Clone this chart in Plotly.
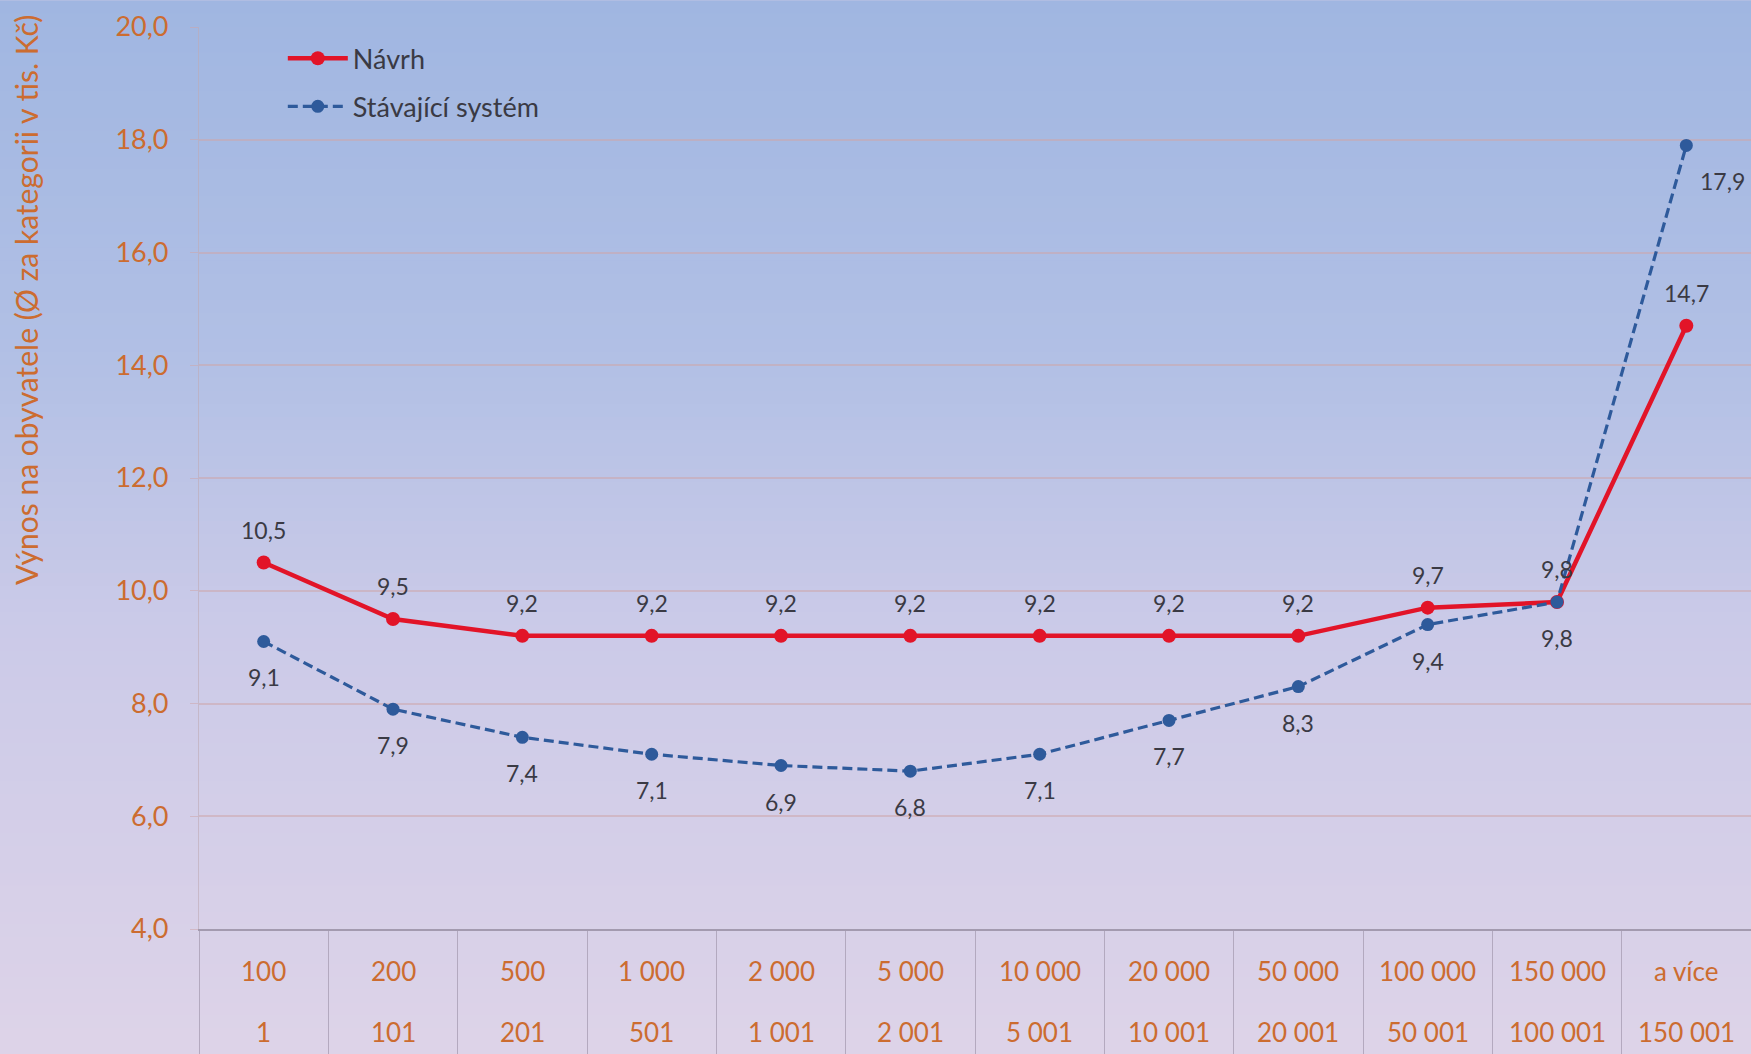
import plotly.graph_objects as go

# ---- data ----
upper_labels = ["100", "200", "500", "1 000", "2 000", "5 000", "10 000", "20 000",
                "50 000", "100 000", "150 000", "a více"]
lower_labels = ["1", "101", "201", "501", "1 001", "2 001", "5 001", "10 001",
                "20 001", "50 001", "100 001", "150 001"]
navrh = [10.5, 9.5, 9.2, 9.2, 9.2, 9.2, 9.2, 9.2, 9.2, 9.7, 9.8, 14.7]
stavajici = [9.1, 7.9, 7.4, 7.1, 6.9, 6.8, 7.1, 7.7, 8.3, 9.4, 9.8, 17.9]
y_ticks = [4, 6, 8, 10, 12, 14, 16, 18, 20]

FONT = "Lato"
ORANGE = "rgb(204,108,48)"
LABEL = "rgb(58,58,68)"
RED = "rgb(226,20,40)"
BLUE = "rgb(46,90,155)"

W, H = 1751, 1054
ML, MR, MT, MB = 199, 0, 27, 114

fig = go.Figure()
fig.add_trace(go.Scatter(
    x=upper_labels, y=navrh, name="Návrh", mode="lines+markers", legendgroup="a",
    line=dict(color=RED, width=4.5),
    marker=dict(color=RED, size=14),
))
fig.add_trace(go.Scatter(
    x=upper_labels, y=stavajici, name="Stávající systém", mode="lines+markers", legendgroup="b",
    line=dict(color=BLUE, width=3.2, dash="10px,5px"),
    marker=dict(color=BLUE, size=13),
))

annotations = []
for i, v in enumerate(navrh):
    annotations.append(dict(x=i, y=v, xref="x", yref="y", text=f"{v:.1f}".replace(".", ","),
                            showarrow=False, yshift=33,
                            font=dict(family=FONT, size=23, color=LABEL)))
for i, v in enumerate(stavajici):
    last = i == len(stavajici) - 1
    annotations.append(dict(x=i, y=v, xref="x", yref="y", text=f"{v:.1f}".replace(".", ","),
                            showarrow=False, yshift=-36, xshift=36 if last else 0,
                            font=dict(family=FONT, size=23, color=LABEL)))
for i, (u, l) in enumerate(zip(upper_labels, lower_labels)):
    annotations.append(dict(x=i, y=-0.0471, xref="x", yref="paper", text=u, showarrow=False,
                            yanchor="middle", font=dict(family=FONT, size=26, color=ORANGE)))
    annotations.append(dict(x=i, y=-0.1139, xref="x", yref="paper", text=l, showarrow=False,
                            yanchor="middle", font=dict(family=FONT, size=26, color=ORANGE)))
annotations.append(dict(
    x=-0.111, y=0.697, xref="paper", yref="paper", textangle=-90, showarrow=False,
    text="Výnos na obyvatele (Ø za kategorii v tis. Kč)",
    font=dict(family=FONT, size=30, color=ORANGE), xanchor="center", yanchor="middle"))

# background gradient (decorative strips in paper coordinates)
ph = H - MT - MB
stops = [(0.0, (160, 182, 225)), (0.35, (178, 192, 229)), (0.6, (203, 202, 232)), (1.0, (221, 211, 232))]

def col(t):
    for (t0, c0), (t1, c1) in zip(stops[:-1], stops[1:]):
        if t <= t1:
            f = (t - t0) / (t1 - t0) if t1 > t0 else 0
            return "rgb(%d,%d,%d)" % tuple(round(a + (b - a) * f) for a, b in zip(c0, c1))
    return "rgb(%d,%d,%d)" % stops[-1][1]

shapes = []
N = 80
for k in range(N):
    py0 = H * k / N
    py1 = H * (k + 1) / N + 1
    y0 = (H - MB - py0) / ph
    y1 = (H - MB - py1) / ph
    shapes.append(dict(type="rect", xref="paper", yref="paper", x0=-0.2, x1=1.1,
                       y0=y1, y1=y0, fillcolor=col((k + 0.5) / N), line=dict(width=0),
                       layer="below"))

fig.update_layout(
    width=W, height=H,
    margin=dict(l=ML, r=MR, t=MT, b=MB),
    paper_bgcolor=col(1.0),
    plot_bgcolor="rgba(0,0,0,0)",
    separators=", ",
    font=dict(family=FONT, color=ORANGE),
    showlegend=True,
    legend=dict(x=0.054, y=0.992, xanchor="left", yanchor="top",
                bgcolor="rgba(0,0,0,0)", font=dict(family=FONT, size=27, color=LABEL),
                tracegroupgap=10, itemwidth=60),
    annotations=annotations,
    shapes=shapes,
    xaxis=dict(
        type="category", categoryorder="array", categoryarray=upper_labels,
        range=[-0.5, 11.5], showticklabels=False, showgrid=False, zeroline=False,
        showline=True, linecolor="rgba(150,140,160,0.8)", linewidth=1.5,
        ticks="outside", tickson="boundaries", ticklen=125,
        tickcolor="rgba(165,155,178,0.75)", tickwidth=1.2,
    ),
    yaxis=dict(
        range=[4, 20], tickmode="array", tickvals=y_ticks, tickformat=".1f",
        showgrid=True, gridcolor="rgba(205,165,170,0.55)", gridwidth=1.5,
        zeroline=False, showline=True, linecolor="rgba(190,170,180,0.6)", linewidth=1.2,
        ticks="outside", ticklen=8, tickcolor="rgba(205,165,170,0.55)",
        tickfont=dict(family=FONT, size=27, color=ORANGE), ticklabelstandoff=16,
    ),
)

post = (
    "document.body.style.margin='0';"
    "document.body.style.overflow='hidden';"
    "document.documentElement.style.overflow='hidden';"
    "document.querySelectorAll('.plotly-graph-div').forEach(function(d){"
    "d.style.overflow='hidden';});"
)
fig.write_html("out.html", config={"displayModeBar": False}, post_script=post)
